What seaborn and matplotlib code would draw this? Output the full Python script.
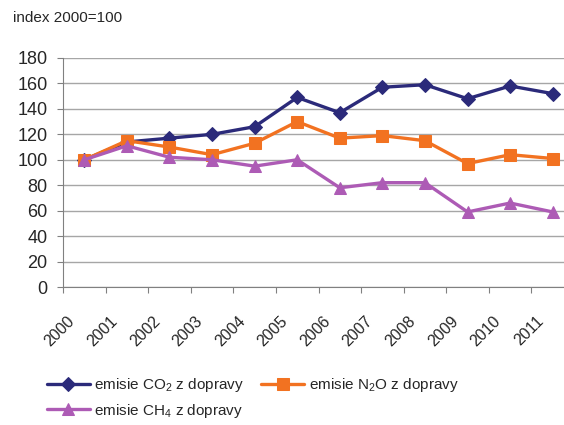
import pandas as pd
import numpy as np
import seaborn as sns
import matplotlib.pyplot as plt
import matplotlib.transforms as mtransforms

# Data
years = ['2000', '2001', '2002', '2003', '2004', '2005',
         '2006', '2007', '2008', '2009', '2010', '2011']
co2 = [100, 114, 117, 120, 126, 149, 137, 157, 159, 148, 158, 152]
n2o = [100, 115, 110, 104, 113, 130, 117, 119, 115, 97, 104, 101]
ch4 = [100, 111, 102, 100, 95, 100, 78, 82, 82, 59, 66, 59]

labels = ['emisie CO$_2$ z dopravy', 'emisie N$_2$O z dopravy', 'emisie CH$_4$ z dopravy']
colors = ['#2B2A7A', '#F27221', '#AD5BB5']
markers = ['D', 's', '^']

sns.set_style('white')
plt.rcParams['font.family'] = ['Liberation Sans', 'DejaVu Sans']
plt.rcParams['mathtext.default'] = 'regular'

fig = plt.figure(figsize=(5.64, 4.25), dpi=100)
ax = fig.add_axes([63 / 564, 1 - 287 / 425, 511 / 564, 229 / 425])

x = np.arange(len(years))
for vals, lab, col, mk in zip([co2, n2o, ch4], labels, colors, markers):
    df = pd.DataFrame({'x': x, 'y': vals})
    ms = 7 if mk == 'D' else 9
    sns.lineplot(data=df, x='x', y='y', ax=ax, color=col, linewidth=2.4,
                 marker=mk, markersize=ms, markeredgecolor=col, label=lab)

ax.set_xlim(-0.5, 11.5)
ax.set_ylim(0, 180)
ax.set_yticks(range(0, 181, 20))
ax.tick_params(axis='y', labelsize=13, length=4, color='#808080', direction='out', left=True, pad=7)
ax.yaxis.grid(True, color='#A6A6A6', linewidth=1)
ax.set_axisbelow(True)

# year labels sit on the category boundaries, rotated
ax.set_xticks(x - 0.5)
ax.set_xticklabels(years, rotation=45, ha='right', va='top', rotation_mode='anchor', fontsize=11.5)
ax.tick_params(axis='x', length=4, color='#808080', direction='out', bottom=True, pad=15)
shift = mtransforms.ScaledTranslation(3 / 72, 0, fig.dpi_scale_trans)
for t in ax.get_xticklabels():
    t.set_transform(t.get_transform() + shift)
ax.set_xlabel('')
ax.set_ylabel('')

for s in ['top', 'right']:
    ax.spines[s].set_visible(False)
ax.spines['left'].set_color('#808080')
ax.spines['bottom'].set_color('#808080')

fig.text(13 / 564, 1 - 18 / 425, 'index 2000=100', fontsize=11, va='center', ha='left')

handles, labs = ax.get_legend_handles_labels()
order = [0, 2, 1]
ax.legend([handles[i] for i in order], [labs[i] for i in order],
          loc='upper left', bbox_to_anchor=(47 / 564, 1 - 376 / 425),
          bbox_transform=fig.transFigure, ncol=2, frameon=False, fontsize=11,
          handlelength=2.8, columnspacing=1.1, handletextpad=0.3, labelspacing=0.5,
          borderaxespad=0, borderpad=0)

fig.savefig('out.png', dpi=100)
